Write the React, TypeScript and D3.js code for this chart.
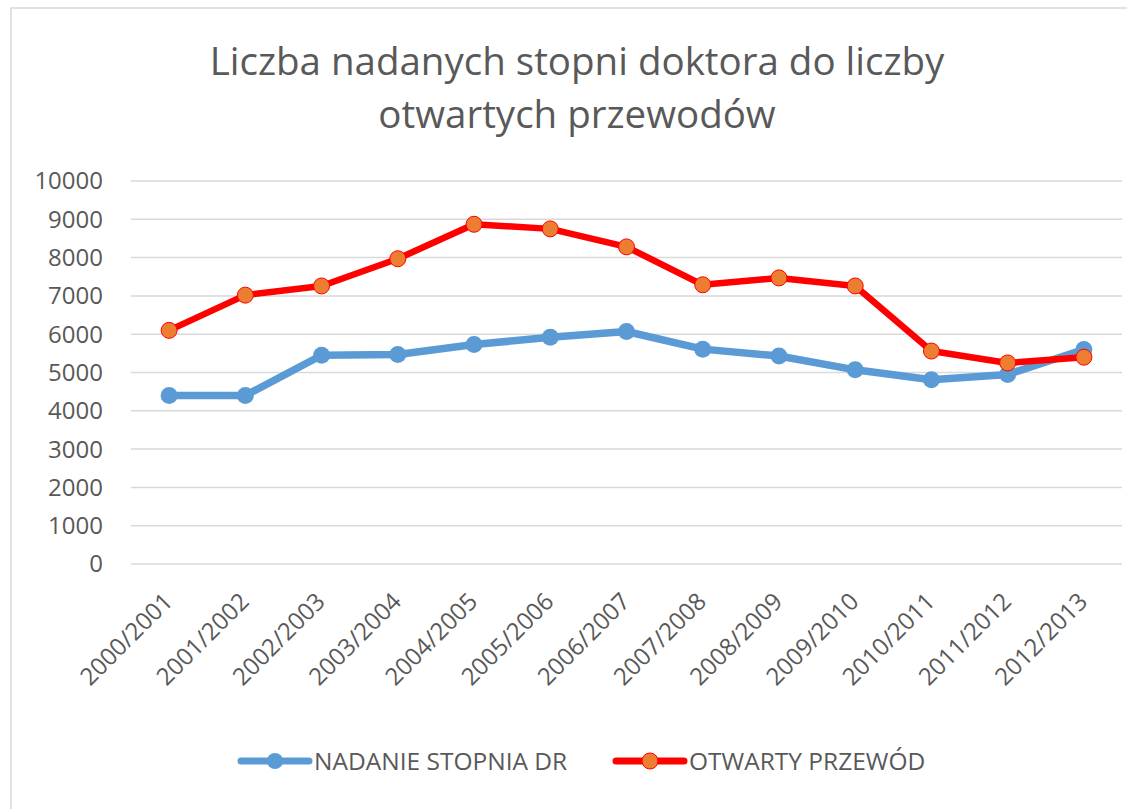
import React, { useEffect, useRef } from 'react';
import * as d3 from 'd3';

const years = [
  '2000/2001', '2001/2002', '2002/2003', '2003/2004', '2004/2005', '2005/2006', '2006/2007',
  '2007/2008', '2008/2009', '2009/2010', '2010/2011', '2011/2012', '2012/2013',
];
const nadanie = [4400, 4400, 5450, 5470, 5730, 5920, 6070, 5610, 5430, 5070, 4810, 4950, 5600];
const otwarty = [6100, 7020, 7260, 7970, 8870, 8750, 8280, 7290, 7470, 7260, 5560, 5250, 5400];
const yTicks = [0, 1000, 2000, 3000, 4000, 5000, 6000, 7000, 8000, 9000, 10000];
const titleLines = ['Liczba nadanych stopni doktora do liczby', 'otwartych przewodów'];
const seriesNames = ['NADANIE STOPNIA DR', 'OTWARTY PRZEWÓD'];

const W = 1127;
const H = 809;
const FONT = "'Open Sans', sans-serif";
const TEXT = '#595959';
const BLUE = '#5b9bd5';
const RED = '#ff0000';
const ORANGE = '#ed7d31';

const App = () => {
  const ref = useRef<SVGSVGElement>(null);

  useEffect(() => {
    const svg = d3.select(ref.current);
    svg.selectAll('*').remove();

    // chart frame
    svg.append('rect')
      .attr('x', 11).attr('y', 8)
      .attr('width', W).attr('height', H)
      .attr('fill', '#fff')
      .attr('stroke', '#d9d9d9').attr('stroke-width', 1.5);

    // title
    svg.append('g').selectAll('text')
      .data(titleLines)
      .enter().append('text')
      .attr('x', 577)
      .attr('y', (d, i) => 75 + i * 53)
      .attr('text-anchor', 'middle')
      .attr('font-family', FONT)
      .attr('font-size', 38.5)
      .attr('fill', TEXT)
      .text(d => d);

    const x = d3.scaleBand().domain(years).range([131, 1122]);
    const y = d3.scaleLinear().domain([0, 10000]).range([564, 181]);
    const cx = (d: string) => (x(d) as number) + x.bandwidth() / 2;

    /* ------- GRID + Y LABELS -------*/
    const grid = svg.append('g');
    grid.selectAll('line')
      .data(yTicks)
      .enter().append('line')
      .attr('x1', 131).attr('x2', 1122)
      .attr('y1', d => y(d)).attr('y2', d => y(d))
      .attr('stroke', '#d9d9d9').attr('stroke-width', 1.5);

    grid.selectAll('text')
      .data(yTicks)
      .enter().append('text')
      .attr('x', 103)
      .attr('y', d => y(d))
      .attr('dy', '0.35em')
      .attr('text-anchor', 'end')
      .attr('font-family', FONT)
      .attr('font-size', 24)
      .attr('fill', TEXT)
      .text(d => d);

    /* ------- X LABELS -------*/
    svg.append('g').selectAll('text')
      .data(years)
      .enter().append('text')
      .attr('transform', d => `translate(${cx(d) + 5},603) rotate(-45)`)
      .attr('text-anchor', 'end')
      .attr('font-family', FONT)
      .attr('font-size', 24)
      .attr('fill', TEXT)
      .text(d => d);

    /* ------- SERIES -------*/
    const line = d3.line<number>()
      .x((d, i) => cx(years[i]))
      .y(d => y(d));

    const blue = svg.append('g');
    blue.append('path')
      .attr('d', line(nadanie))
      .attr('fill', 'none')
      .attr('stroke', BLUE).attr('stroke-width', 7.5)
      .attr('stroke-linejoin', 'round').attr('stroke-linecap', 'round');
    blue.selectAll('circle')
      .data(nadanie)
      .enter().append('circle')
      .attr('cx', (d, i) => cx(years[i]))
      .attr('cy', d => y(d))
      .attr('r', 8.5)
      .attr('fill', BLUE);

    const red = svg.append('g');
    red.append('path')
      .attr('d', line(otwarty))
      .attr('fill', 'none')
      .attr('stroke', RED).attr('stroke-width', 6.5)
      .attr('stroke-linejoin', 'round').attr('stroke-linecap', 'round');
    red.selectAll('circle')
      .data(otwarty)
      .enter().append('circle')
      .attr('cx', (d, i) => cx(years[i]))
      .attr('cy', d => y(d))
      .attr('r', 8)
      .attr('fill', ORANGE)
      .attr('stroke', RED).attr('stroke-width', 1);

    /* ------- LEGEND -------*/
    const legend = [
      { name: seriesNames[0], x: 241, color: BLUE, fill: BLUE },
      { name: seriesNames[1], x: 616, color: RED, fill: ORANGE },
    ];
    const lg = svg.append('g').selectAll('g')
      .data(legend)
      .enter().append('g')
      .attr('transform', d => `translate(${d.x},761)`);
    lg.append('line')
      .attr('x1', 0).attr('x2', 68)
      .attr('stroke', d => d.color).attr('stroke-width', 7)
      .attr('stroke-linecap', 'round');
    lg.append('circle')
      .attr('cx', 34).attr('r', 8)
      .attr('fill', d => d.fill)
      .attr('stroke', d => (d.color === RED ? RED : 'none'));
    lg.append('text')
      .attr('x', 73)
      .attr('dy', '0.35em')
      .attr('font-family', FONT)
      .attr('font-size', 24.5)
      .attr('fill', TEXT)
      .text(d => d.name);
  }, []);

  return (
    <svg
      ref={ref}
      width={W}
      height={H}
      style={{ position: 'absolute', left: 0, top: 0, background: '#fff' }}
    />
  );
};

export default App;
